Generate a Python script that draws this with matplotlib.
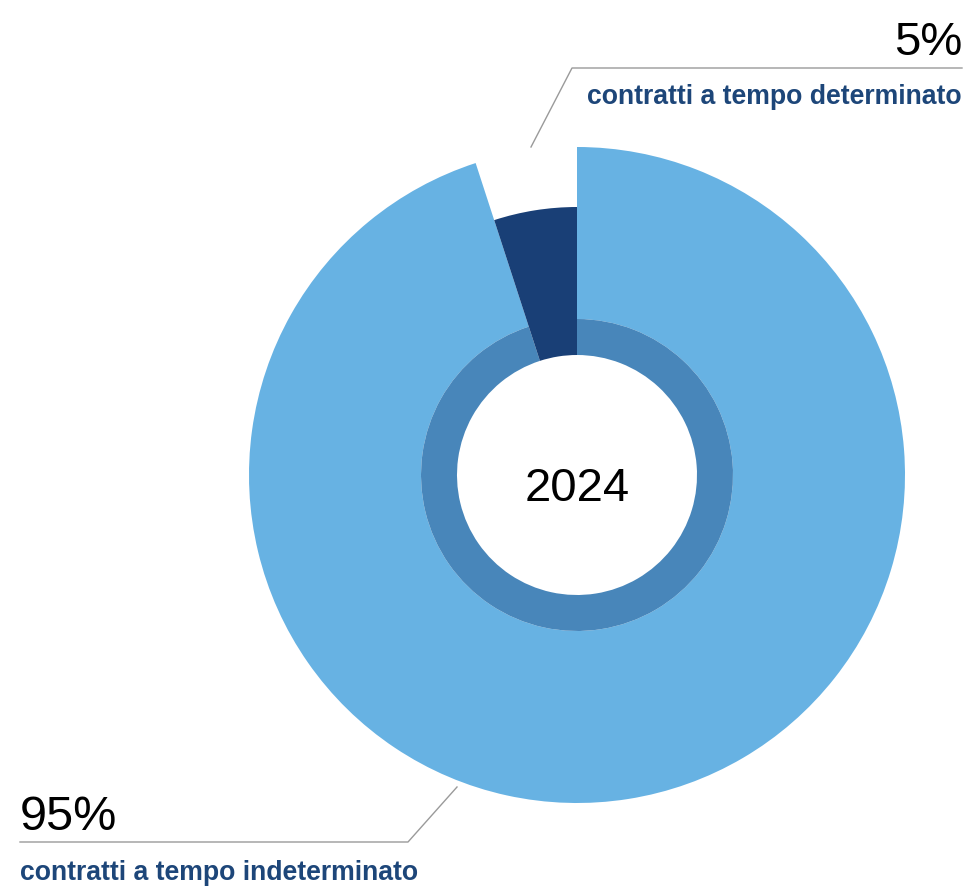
import matplotlib.pyplot as plt

plt.rcParams['font.family'] = ['Liberation Sans', 'DejaVu Sans']

categories = ['contratti a tempo determinato', 'contratti a tempo indeterminato']
values = [5, 95]
pct_labels = ['5%', '95%']
year = '2024'

light = '#67B2E3'
mid = '#4886BA'
dark = '#193F76'
label_col = '#1D4679'
line_col = '#9A9A9A'

H = 888
fig = plt.figure(figsize=(9.73, 8.88), dpi=100)
ax = fig.add_axes([0, 0, 1, 1])
ax.set_xlim(0, 973)
ax.set_ylim(0, H)
ax.set_aspect('equal')
ax.axis('off')

c = (577, H - 475)
# light outer band (95%)
ax.pie(values, center=c, radius=328, startangle=90, counterclock=True,
       colors=['none', light], wedgeprops=dict(width=172, linewidth=0), frame=True)
# inner ring under the 95% slice
ax.pie(values, center=c, radius=156, startangle=90, counterclock=True,
       colors=['none', mid], wedgeprops=dict(width=36, linewidth=0), frame=True)
# dark 5% slice
ax.pie(values, center=c, radius=268, startangle=90, counterclock=True,
       colors=[dark, 'none'], wedgeprops=dict(width=148, linewidth=0), frame=True)
ax.set_xlim(0, 973)
ax.set_ylim(0, H)
ax.axis('off')

ax.text(c[0], c[1] - 14, year, fontsize=34, ha='center', va='center', color='black')

# leader lines
ax.plot([531, 572, 962], [H - 147, H - 68, H - 68], color=line_col, lw=1)
ax.plot([457, 408, 20], [H - 787, H - 842, H - 842], color=line_col, lw=1)

ax.text(962, H - 55, pct_labels[0], fontsize=34, ha='right', va='baseline', color='black')
ax.text(962, H - 104, categories[0], fontsize=19.2, fontweight='bold', ha='right',
        va='baseline', color=label_col)
ax.text(20, H - 830, pct_labels[1], fontsize=35, ha='left', va='baseline', color='black')
ax.text(20, H - 880, categories[1], fontsize=19.2, fontweight='bold', ha='left',
        va='baseline', color=label_col)

plt.savefig('out.png', dpi=100)
